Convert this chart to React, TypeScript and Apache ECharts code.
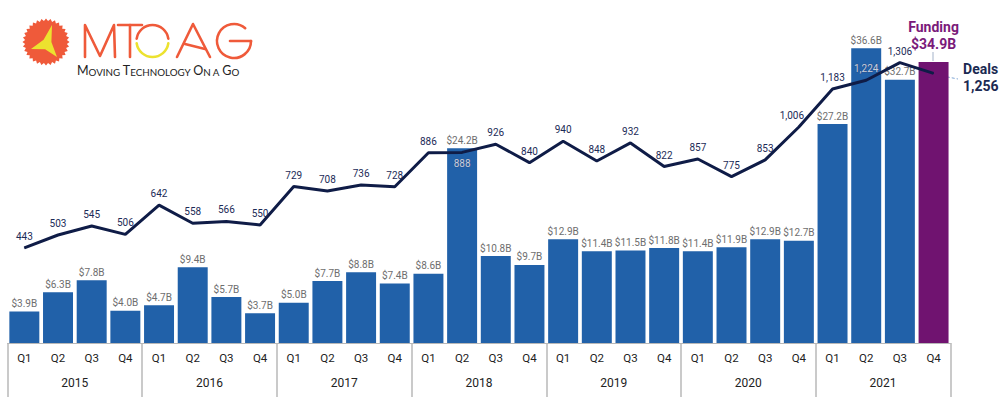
import React, { useEffect, useRef } from 'react';
import * as echarts from 'echarts';

const years = ['2015', '2016', '2017', '2018', '2019', '2020', '2021'];
const quarters = ['Q1', 'Q2', 'Q3', 'Q4'];
const categories = years.flatMap((y) => quarters.map((q) => `${y} ${q}`));
const funding = [
  3.9, 6.3, 7.8, 4.0,
  4.7, 9.4, 5.7, 3.7,
  5.0, 7.7, 8.8, 7.4,
  8.6, 24.2, 10.8, 9.7,
  12.9, 11.4, 11.5, 11.8,
  11.4, 11.9, 12.9, 12.7,
  27.2, 36.6, 32.7, 34.9,
];
const deals = [
  443, 503, 545, 506,
  642, 558, 566, 550,
  729, 708, 736, 728,
  886, 888, 926, 840,
  940, 848, 932, 822,
  857, 775, 853, 1006,
  1183, 1224, 1306, 1256,
];

const BLUE = '#2161a9';
const PURPLE = '#701370';
const NAVY = '#0f1c47';
const ORANGE = '#ef5a3a';
const YELLOW = '#ece22f';
const FONT = 'Roboto, "Noto Sans", sans-serif';

function sunPoints(cx: number, cy: number, ro: number, ri: number, n: number) {
  const pts: number[][] = [];
  for (let i = 0; i < n * 2; i++) {
    const r = i % 2 === 0 ? ro : ri;
    const a = (Math.PI * i) / n;
    pts.push([cx + r * Math.cos(a), cy + r * Math.sin(a)]);
  }
  return pts;
}

function buildLogo() {
  const stroke = { stroke: ORANGE, lineWidth: 2.6, lineCap: 'round', lineJoin: 'round', fill: 'none' };
  return [
    { type: 'polygon', shape: { points: sunPoints(46, 42, 23.5, 21, 32) }, style: { fill: ORANGE } },
    {
      type: 'polygon',
      shape: {
        points: [[52, 25], [43.6, 39.7], [31, 49], [45.1, 49.3], [57, 57], [51.4, 42.1]],
      },
      style: { fill: YELLOW },
    },
    { type: 'polyline', shape: { points: [[85, 57], [85, 25], [100, 56], [114, 25], [115, 57]] }, style: stroke },
    { type: 'line', shape: { x1: 118, y1: 25, x2: 142, y2: 25 }, style: stroke },
    { type: 'line', shape: { x1: 130, y1: 25, x2: 130, y2: 57 }, style: stroke },
    { type: 'arc', shape: { cx: 152.5, cy: 41, r: 16, startAngle: Math.PI + 0.15, endAngle: 2 * Math.PI - 0.15, clockwise: true }, style: stroke },
    { type: 'arc', shape: { cx: 152.5, cy: 41, r: 16, startAngle: 0.15, endAngle: Math.PI - 0.15, clockwise: true }, style: { ...stroke, stroke: YELLOW } },
    { type: 'polyline', shape: { points: [[177, 57], [193, 24], [210, 57]] }, style: stroke },
    { type: 'line', shape: { x1: 185, y1: 44, x2: 205, y2: 49 }, style: stroke },
    { type: 'arc', shape: { cx: 234, cy: 41, r: 17, startAngle: 0, endAngle: 2 * Math.PI - 0.85, clockwise: true }, style: stroke },
    { type: 'line', shape: { x1: 230, y1: 41, x2: 251, y2: 41 }, style: stroke },
    {
      type: 'text',
      x: 77,
      y: 70,
      style: {
        text: '{a|M}{b|OVING }{a|T}{b|ECHNOLOGY }{a|O}{b|N A }{a|G}{b|O}',
        fill: '#222',
        verticalAlign: 'middle',
        rich: {
          a: { fontSize: 12.5, fontFamily: 'Lato, sans-serif', fill: '#222', verticalAlign: 'bottom', lineHeight: 13 },
          b: { fontSize: 9.8, fontFamily: 'Lato, sans-serif', fill: '#222', verticalAlign: 'bottom', lineHeight: 13 },
        },
      },
    },
    // annotation leader lines
    { type: 'line', shape: { x1: 933, y1: 52, x2: 933, y2: 61 }, style: { stroke: '#a3b2c9', lineWidth: 1 } },
    { type: 'line', shape: { x1: 937, y1: 75, x2: 958, y2: 79 }, style: { stroke: '#7fa6d4', lineWidth: 1, lineDash: [3, 2] } },
  ];
}

export default function App() {
  const ref = useRef<HTMLDivElement>(null);
  useEffect(() => {
    document.body.style.margin = '0';
    if (!ref.current) return;
    const chart = echarts.init(ref.current, undefined, { renderer: 'svg' });
    const last = funding.length - 1;

    const barData = funding.map((v, i) => {
      if (i === last) {
        return {
          value: v,
          itemStyle: { color: PURPLE },
          label: {
            show: true,
            position: 'top',
            distance: 10,
            formatter: '{t|Funding}\n{t|$' + v.toFixed(1) + 'B}',
            rich: { t: { fontSize: 14, fontWeight: 'bold', color: '#7a1a7a', fontFamily: FONT, lineHeight: 16.5, align: 'center' } },
          },
        };
      }
      return { value: v };
    });

    const lightLabel = { color: '#c9cfdc', textBorderColor: 'rgba(40,70,130,0.6)', textBorderWidth: 1 };
    const lineData = deals.map((v, i) => {
      if (i === last) {
        return {
          value: v,
          label: {
            show: true,
            position: 'right',
            distance: 29,
            offset: [0, 4.5],
            formatter: '{t|Deals}\n{t|' + v.toLocaleString('en-US') + '}',
            rich: { t: { fontSize: 14, fontWeight: 'bold', color: '#1b2a52', fontFamily: FONT, lineHeight: 17, align: 'left' } },
          },
        };
      }
      if (i === 13) return { value: v, label: { position: 'bottom', distance: 6, ...lightLabel } };
      if (i === 25) return { value: v, label: { ...lightLabel } };
      if (i === 23) return { value: v, label: { offset: [-7, 0] } };
      return { value: v };
    });

    chart.setOption({
      animation: false,
      grid: { left: 7.5, right: 56.6, top: 21, bottom: 54, containLabel: false },
      xAxis: [
        {
          type: 'category',
          data: categories,
          position: 'bottom',
          axisLine: { show: false },
          axisTick: { show: false },
          axisLabel: {
            margin: 9,
            fontSize: 11.5,
            color: '#222',
            fontFamily: FONT,
            interval: 0,
            formatter: (s: string) => s.split(' ')[1],
          },
        },
        {
          type: 'category',
          data: years,
          position: 'bottom',
          axisLine: { show: true, lineStyle: { color: '#b8b8b8', width: 1 } },
          axisTick: { show: true, length: 54, lineStyle: { color: '#b8b8b8', width: 1.5 } },
          axisLabel: { margin: 34, fontSize: 12, color: '#222', fontFamily: FONT, interval: 0 },
        },
      ],
      yAxis: [
        { type: 'value', min: 0, max: 40, show: false, splitLine: { show: false } },
        { type: 'value', min: 0, max: 1500, show: false, splitLine: { show: false } },
      ],
      series: [
        {
          type: 'bar',
          xAxisIndex: 0,
          yAxisIndex: 0,
          data: barData,
          barCategoryGap: '11%',
          itemStyle: { color: BLUE },
          label: {
            show: true,
            position: 'top',
            distance: 3,
            fontSize: 10,
            color: '#6e6e6e',
            fontFamily: FONT,
            formatter: (p: any) => '$' + Number(p.value).toFixed(1) + 'B',
          },
          z: 2,
        },
        {
          type: 'line',
          xAxisIndex: 0,
          yAxisIndex: 1,
          data: lineData,
          symbol: 'circle',
          symbolSize: 1,
          showSymbol: true,
          itemStyle: { color: NAVY },
          lineStyle: { color: NAVY, width: 3 },
          label: {
            show: true,
            position: 'top',
            distance: 6,
            fontSize: 10,
            color: '#1c2b57',
            fontFamily: FONT,
            formatter: (p: any) => Number(p.value).toLocaleString('en-US'),
          },
          z: 3,
        },
      ],
      graphic: buildLogo(),
    });
    return () => chart.dispose();
  }, []);
  return <div ref={ref} style={{ width: 1007, height: 397 }} />;
}
